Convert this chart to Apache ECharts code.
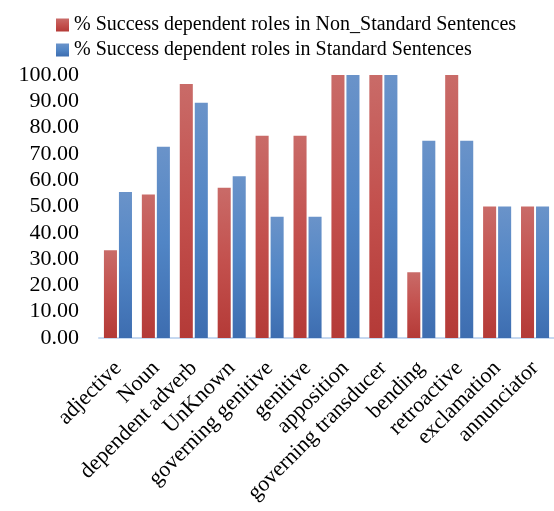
<!DOCTYPE html>
<html>
<head>
<meta charset="utf-8">
<script src="https://cdn.jsdelivr.net/npm/echarts@6/dist/echarts.min.js"></script>
<style>
  html, body { margin: 0; padding: 0; background: #fff; }
  #chart { width: 554px; height: 511px; }
</style>
</head>
<body>
<div id="chart"></div>
<script>
var categories = ['adjective', 'Noun', 'dependent adverb', 'UnKnown', 'governing genitive', 'genitive',
    'apposition', 'governing transducer', 'bending', 'retroactive', 'exclamation', 'annunciator'];
var nonStandard = [33.33, 54.55, 96.55, 57.14, 76.92, 76.92, 100, 100, 25, 100, 50, 50];
var standard = [55.56, 72.73, 89.47, 61.54, 46.15, 46.15, 100, 100, 75, 75, 50, 50];
var seriesNames = ['% Success dependent roles in Non_Standard Sentences', '% Success dependent roles in Standard Sentences'];

var font = 'Liberation Serif, Times New Roman, serif';

function grad(top, mid, bottom) {
    return new echarts.graphic.LinearGradient(0, 0, 0, 1, [
        {offset: 0, color: top},
        {offset: 0.5, color: mid},
        {offset: 1, color: bottom}
    ]);
}

var chart = echarts.init(document.getElementById('chart'));

var option = {
    animation: false,
    legend: {
        orient: 'vertical',
        left: 51,
        top: 10,
        itemWidth: 13,
        itemHeight: 13,
        itemGap: 5,
        icon: 'rect',
        textStyle: {fontFamily: font, fontSize: 20, color: '#000', lineHeight: 20},
        data: seriesNames
    },
    grid: {
        left: 99,
        right: 0,
        top: 75,
        bottom: 173
    },
    xAxis: [
        {
            // axis line only
            type: 'category',
            data: categories,
            axisLine: {show: true, lineStyle: {color: '#C6D9F1', width: 2}},
            axisTick: {show: false},
            splitLine: {show: false},
            splitArea: {show: false},
            axisLabel: {show: false}
        },
        {
            // labels, a bit lower than the line
            type: 'category',
            data: categories,
            position: 'bottom',
            offset: 17,
            axisLine: {show: false},
            axisTick: {show: false},
            splitLine: {show: false},
            splitArea: {show: false},
            axisLabel: {
                interval: 0,
                rotate: 45,
                margin: 10,
                fontFamily: font,
                fontSize: 22,
                color: '#000'
            }
        }
    ],
    yAxis: {
        type: 'value',
        min: 0,
        max: 100,
        interval: 10,
        axisLine: {show: false},
        axisTick: {show: false},
        splitLine: {show: false},
        axisLabel: {
            margin: 20,
            fontFamily: font,
            fontSize: 22,
            color: '#000',
            formatter: function (v) { return v.toFixed(2); }
        }
    },
    series: [
        {
            name: seriesNames[0],
            type: 'bar',
            xAxisIndex: 0,
            data: nonStandard,
            barGap: '15%',
            barCategoryGap: '26%',
            itemStyle: {color: grad('#C96B68', '#C3504D', '#B43A37')}
        },
        {
            name: seriesNames[1],
            type: 'bar',
            xAxisIndex: 0,
            data: standard,
            itemStyle: {color: grad('#6A93C9', '#5185C5', '#3D6DB0')}
        }
    ]
};

chart.setOption(option);
</script>
</body>
</html>
